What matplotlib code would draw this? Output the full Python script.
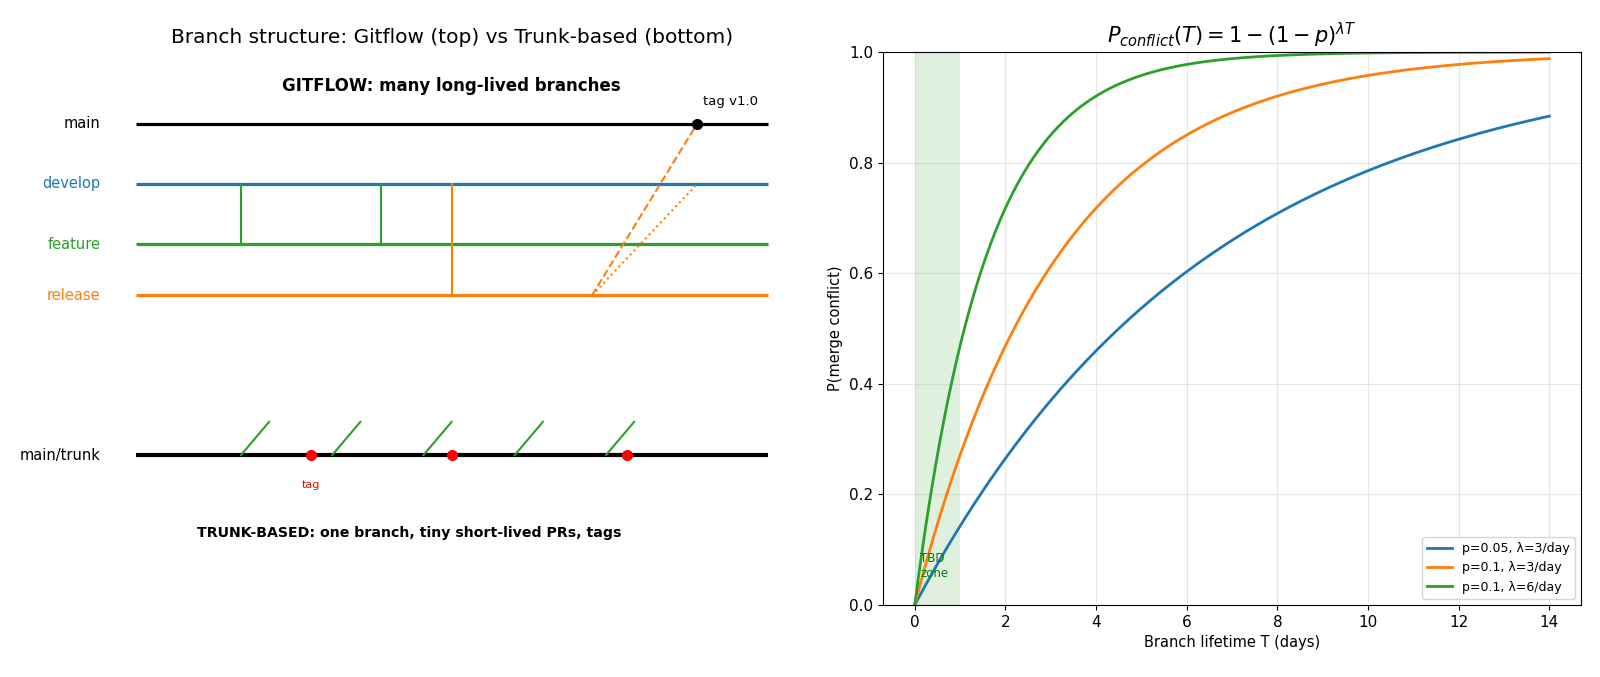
import numpy as np
import matplotlib
matplotlib.use("Agg")
import matplotlib.pyplot as plt

# ---------------- data ----------------
branch_names = ["main", "develop", "feature", "release"]
branch_y = [6.0, 5.0, 4.0, 3.15]
branch_colors = ["black", "#1f77b4", "#2ca02c", "#ff7f0e"]
branch_x_range = [0.0, 9.0]

feature_merge_x = [1.5, 3.5]      # feature -> develop
release_cut_x = 4.5               # develop -> release
release_merge_start = 6.5         # release -> main / develop
tag_x = 8.0

trunk_y = 0.5
pr_x = [1.5, 2.8, 4.1, 5.4, 6.7]
pr_dx, pr_dy = 0.4, 0.55
trunk_tags_x = [2.5, 4.5, 7.0]

probs = [0.05, 0.1, 0.1]
rates = [3, 3, 6]
curve_colors = ["#1f77b4", "#ff7f0e", "#2ca02c"]
curve_labels = ["p=0.05, λ=3/day", "p=0.1, λ=3/day", "p=0.1, λ=6/day"]
T_max = 14

W, H = 1600, 677
fig = plt.figure(figsize=(W / 100, H / 100), dpi=100)

def px_axes(x0, y0, x1, y1):
    return fig.add_axes([x0 / W, 1 - y1 / H, (x1 - x0) / W, (y1 - y0) / H])

# ---------------- left panel ----------------
ax = px_axes(100.6, 51.2, 802.6, 605.7)
ax.set_xlim(-0.5, 9.5)
ax.set_ylim(-2.0, 7.2)
ax.axis("off")
ax.set_title("Branch structure: Gitflow (top) vs Trunk-based (bottom)", fontsize=14.5, pad=6)

for name, y, c in zip(branch_names, branch_y, branch_colors):
    ax.plot(branch_x_range, [y, y], color=c, lw=2.3, solid_capstyle="butt")
    ax.text(-0.5, y, name, color=c, fontsize=10.5, ha="right", va="center")

y_main, y_dev, y_feat, y_rel = branch_y
for x in feature_merge_x:
    ax.plot([x, x], [y_feat, y_dev], color=branch_colors[2], lw=1.5)
ax.plot([release_cut_x, release_cut_x], [y_rel, y_dev], color=branch_colors[3], lw=1.5)
ax.plot([release_merge_start, tag_x], [y_rel, y_main], color=branch_colors[3], lw=1.5, ls="--")
ax.plot([release_merge_start, tag_x], [y_rel, y_dev], color=branch_colors[3], lw=1.5, ls=":")
ax.plot([tag_x], [y_main], "o", color="black", ms=7, zorder=5)
ax.text(tag_x + 0.08, y_main + 0.25, "tag v1.0", fontsize=9.5, va="bottom")
ax.text(4.5, y_main + 0.62, "GITFLOW: many long-lived branches", fontsize=12,
        fontweight="bold", ha="center", va="center")

ax.plot(branch_x_range, [trunk_y, trunk_y], color="black", lw=3, solid_capstyle="butt")
ax.text(-0.5, trunk_y, "main/trunk", fontsize=10.5, ha="right", va="center")
for x in pr_x:
    ax.plot([x, x + pr_dx], [trunk_y, trunk_y + pr_dy], color="#2ca02c", lw=1.5)
ax.plot(trunk_tags_x, [trunk_y] * len(trunk_tags_x), "o", color="red", ms=7, zorder=5)
ax.text(trunk_tags_x[0], trunk_y - 0.5, "tag", color="red", fontsize=8, ha="center", va="center")
ax.text(3.9, trunk_y - 1.29, "TRUNK-BASED: one branch, tiny short-lived PRs, tags",
        fontsize=10.2, fontweight="bold", ha="center", va="center")

# ---------------- right panel ----------------
ax2 = px_axes(883, 52, 1581, 605)
T = np.linspace(0, T_max, 300)
for p, lam, c, lab in zip(probs, rates, curve_colors, curve_labels):
    ax2.plot(T, 1 - (1 - p) ** (lam * T), color=c, lw=2, label=lab)
ax2.axvspan(0, 1, color="#2ca02c", alpha=0.15, lw=0)
ax2.text(0.12, 0.05, "TBD\nzone", color="green", fontsize=8.5)
ax2.set_ylim(0, 1)
ax2.tick_params(labelsize=11)
ax2.set_xlabel("Branch lifetime T (days)", fontsize=10.5)
ax2.set_ylabel("P(merge conflict)", fontsize=10.5)
ax2.set_title(r"$P_{conflict}(T) = 1-(1-p)^{\lambda T}$", fontsize=15)
ax2.grid(alpha=0.3)
ax2.legend(loc="lower right", fontsize=9)

fig.savefig("out.png", dpi=100)
